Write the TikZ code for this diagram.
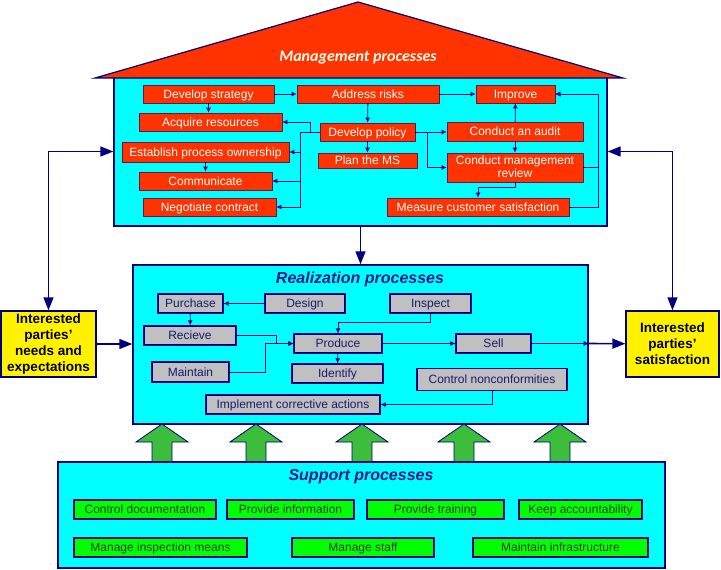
\documentclass[tikz,border=0pt]{standalone}
\usepackage{fontspec}
\setmainfont{Liberation Sans}
\newfontfamily\roofface{Carlito}
\usetikzlibrary{arrows.meta}
\definecolor{navy}{HTML}{000080}
\definecolor{panelcyan}{HTML}{00FFFF}
\definecolor{mred}{HTML}{FF3300}
\definecolor{rgray}{HTML}{C0C0C0}
\definecolor{sgreen}{HTML}{00FF00}
\definecolor{agreen}{HTML}{3CBE3C}
\definecolor{rtext}{HTML}{1A1A70}
\definecolor{stext}{HTML}{1E3A1E}
\definecolor{ptitlecol}{HTML}{0A1A8C}
\tikzset{
  panel/.style={rectangle, draw=navy, fill=panelcyan, line width=1.4pt},
  mproc/.style={rectangle, draw=navy!60!mred, fill=mred, text=white, line width=0.7pt, inner sep=0pt, align=center, text height=10.5pt, text depth=2.5pt, font=\fontsize{12}{13}\selectfont},
  rproc/.style={rectangle, draw=navy, fill=rgray, text=rtext, line width=1.3pt, inner sep=0pt, text height=10.5pt, text depth=2.5pt, font=\fontsize{12}{13}\selectfont},
  sproc/.style={rectangle, draw=navy, fill=sgreen, text=stext, line width=1.1pt, inner sep=0pt, text height=10.5pt, text depth=2.5pt, font=\fontsize{12}{13}\selectfont},
  party/.style={rectangle, draw=navy, fill=yellow, line width=1.4pt, align=center, inner sep=0pt, font=\bfseries\fontsize{13.5}{16}\selectfont},
  ptitle/.style={font=\bfseries\itshape\fontsize{16}{18}\selectfont, text=ptitlecol},
  arr/.style={-{Latex[length=5pt,width=5pt]}, draw=navy, line width=0.8pt},
  bigarr/.style={-{Triangle[length=13pt,width=10pt]}, draw=navy, line width=1.6pt},
}
\begin{document}
\begin{tikzpicture}[x=1pt, y=-1pt]
\useasboundingbox (0,0) rectangle (721,570);
% management
\node[panel, minimum width=493pt, minimum height=149pt] (mbox) at (360.5,151.5) {};
\draw[navy, fill=mred, line width=1.2pt] (95,78) -- (358,2) -- (623,78) -- cycle;
\node[text=white!92!yellow, font=\roofface\bfseries\itshape\fontsize{16}{18}\selectfont] (mtitle) at (358,58) {Management processes};
\node[mproc, minimum width=131pt, minimum height=18pt] (strategy) at (208.5,94) {Develop strategy};
\node[mproc, minimum width=142pt, minimum height=18pt] (risks) at (368,94) {Address risks};
\node[mproc, minimum width=79pt, minimum height=18pt] (improve) at (515.5,94) {Improve};
\node[mproc, minimum width=143pt, minimum height=18pt] (acquire) at (210.5,122) {Acquire resources};
\node[mproc, minimum width=95pt, minimum height=18pt] (policy) at (367.5,132) {Develop policy};
\node[mproc, minimum width=136pt, minimum height=19pt] (audit) at (515,131.5) {Conduct an audit};
\node[mproc, minimum width=167pt, minimum height=20pt] (ownership) at (205.5,152) {Establish process ownership};
\node[mproc, minimum width=99pt, minimum height=15pt] (plan) at (367.5,160.5) {Plan the MS};
\node[mproc, minimum width=136pt, minimum height=29pt, text height=22pt] (review) at (515,167.5) {Conduct management\\review};
\node[mproc, minimum width=133pt, minimum height=18pt] (communicate) at (205.5,181) {Communicate};
\node[mproc, minimum width=133pt, minimum height=18pt] (negotiate) at (209.5,207) {Negotiate contract};
\node[mproc, minimum width=182pt, minimum height=18pt] (measure) at (478,207) {Measure customer satisfaction};
\draw[arr] (strategy) -- (strategy |- acquire.north);
\draw[arr] (strategy) -- (risks);
\draw[arr] (risks) -- (policy);
\draw[arr] (policy) -- (plan);
\draw[arr] (risks) -- (improve);
\draw[arr] (policy.west) -- ++(-9,0) |- (acquire.east);
\draw[arr] (policy.west) -- ++(-19,0) |- (ownership.east);
\draw[arr] (policy.west) -- ++(-19,0) |- (communicate.east);
\draw[arr] (policy.west) -- ++(-19,0) |- (negotiate.east);
\draw[arr] (ownership) -- (communicate);
\draw[arr] (policy) -- (policy -| audit.west);
\draw[arr] (policy.east) -- ++(12,0) |- (review.west);
\draw[arr] (audit) -- (improve);
\draw[arr] (audit) -- (review);
\draw[arr] (review.south) -- ++(0,5) -| (measure.north);
\draw[arr] (review.east) -- ++(15,0) |- (improve.east);
\draw[arr] (measure.east) -- ++(29,0) |- (improve.east);
% realization
\node[panel, minimum width=455pt, minimum height=159pt] (rbox) at (360.5,344.5) {};
\node[ptitle] (rtitle) at (360,279) {Realization processes};
\node[rproc, minimum width=65pt, minimum height=19pt] (purchase) at (190.5,303.5) {Purchase};
\node[rproc, minimum width=80pt, minimum height=19pt] (design) at (305,303.5) {Design};
\node[rproc, minimum width=81pt, minimum height=19pt] (inspect) at (430.5,303.5) {Inspect};
\node[rproc, minimum width=92pt, minimum height=19pt] (recieve) at (190,335.5) {Recieve};
\node[rproc, minimum width=88pt, minimum height=19pt] (produce) at (338,343.5) {Produce};
\node[rproc, minimum width=75pt, minimum height=19pt] (sell) at (493.5,343.5) {Sell};
\node[rproc, minimum width=77pt, minimum height=20pt] (maintain) at (190.5,372) {Maintain};
\node[rproc, minimum width=91pt, minimum height=19pt] (identify) at (337.5,373.5) {Identify};
\node[rproc, minimum width=150pt, minimum height=22pt] (control) at (492,379.5) {Control nonconformities};
\node[rproc, minimum width=174pt, minimum height=19pt] (implement) at (293,404.5) {Implement corrective actions};
\draw[arr] (design) -- (purchase);
\draw[arr] (purchase) -- (recieve);
\draw[arr] (recieve.east) -- ++(40,0) |- (produce.west);
\draw[arr] (maintain.east) -- ++(36,0) |- (produce.west);
\draw[arr] (inspect.south) -- ++(0,9) -| (produce.north);
\draw[arr] (produce) -- (identify);
\draw[arr] (produce) -- (sell);
\draw[arr] (control.south) |- (implement.east);
% interested parties
\node[party, minimum width=95pt, minimum height=66pt] (needs) at (48.5,344) {Interested\\parties'\\needs and\\expectations};
\node[party, minimum width=93pt, minimum height=66pt] (satis) at (672.5,344) {Interested\\parties'\\satisfaction};
\draw[arr] (sell) -- (sell -| rbox.east);
\draw[bigarr] (sell -| rbox.east) -- (satis);
\draw[bigarr] (needs) -- (needs -| rbox.west);
\draw[bigarr, {Triangle[length=13pt,width=10pt]}-{Triangle[length=13pt,width=10pt]}] (needs.north) |- (mbox.west);
\draw[bigarr, {Triangle[length=13pt,width=10pt]}-{Triangle[length=13pt,width=10pt]}] (satis.north) |- (mbox.east);
\draw[bigarr] (mbox) -- (rbox);
% support
\foreach \cx in {162,256,362,464,560}
  \draw[navy, fill=agreen, line width=0.8pt] (\cx-10,466) -- (\cx-10,442) -- (\cx-26,442) -- (\cx,424) -- (\cx+26,442) -- (\cx+10,442) -- (\cx+10,466) -- cycle;
\node[panel, minimum width=607pt, minimum height=106pt] (sbox) at (361.5,515) {};
\node[ptitle] (stitle) at (361,477) {Support processes};
\node[sproc, minimum width=142pt, minimum height=19pt] (documentation) at (145,509.5) {Control documentation};
\node[sproc, minimum width=127pt, minimum height=19pt] (information) at (290.5,509.5) {Provide information};
\node[sproc, minimum width=137pt, minimum height=19pt] (training) at (435.5,509.5) {Provide training};
\node[sproc, minimum width=123pt, minimum height=19pt] (accountability) at (580.5,509.5) {Keep accountability};
\node[sproc, minimum width=173pt, minimum height=19pt] (inspection) at (160.5,547.5) {Manage inspection means};
\node[sproc, minimum width=142pt, minimum height=19pt] (staff) at (363,547.5) {Manage staff};
\node[sproc, minimum width=175pt, minimum height=19pt] (infrastructure) at (560.5,547.5) {Maintain infrastructure};
\end{tikzpicture}
\end{document}
